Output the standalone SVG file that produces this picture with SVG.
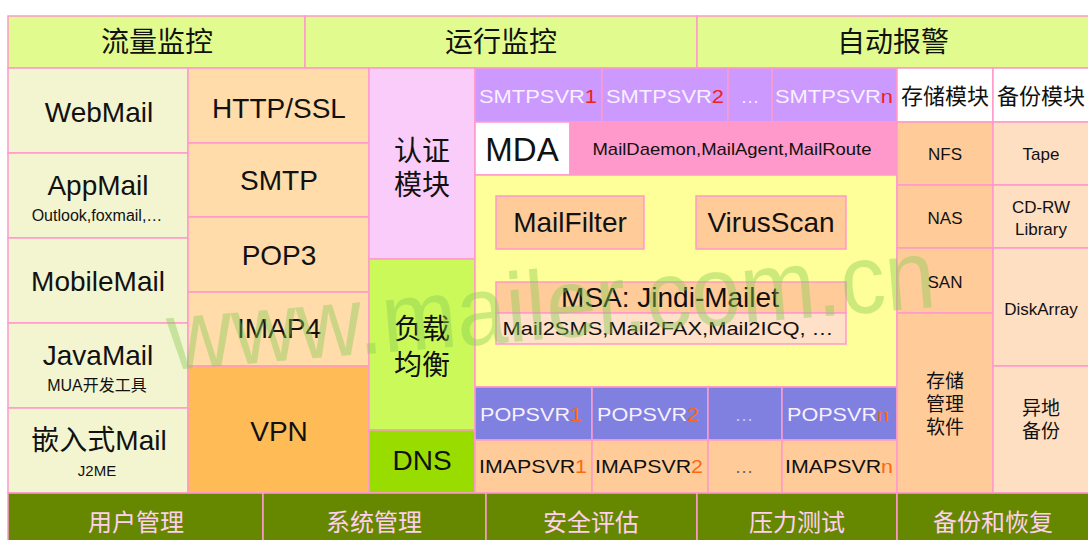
<svg xmlns="http://www.w3.org/2000/svg" width="1088" height="540" viewBox="0 0 1088 540">
<style>
rect{stroke:#ff99cc;stroke-width:1.5}
text{font-family:"Liberation Sans","Noto Sans CJK SC",sans-serif;text-anchor:middle;fill:#111}
.cn{font-family:"Noto Sans CJK SC","Liberation Sans",sans-serif}
.top{fill:#e2fb8e}
.client{fill:#f3f5d0}
.proto{fill:#ffdcaa}
.big{font-size:28px}
.small{font-size:16px}
.svr{font-size:19px;fill:#f8f0ff}
.red{fill:#ee2222}
.org{fill:#ff6611}
.bar{fill:#668800}
.bt{font-size:24px;fill:#ffd0f0}
.stor{fill:#ffcc99}
.bak{fill:#ffdfc2}
.st{font-size:17px}
</style>
<rect width="1088" height="540" fill="#ffffff" style="stroke:none"/>

<g id="top-monitor">
<rect class="top" x="8" y="16" width="297" height="52"/>
<text class="cn big" x="157" y="52">流量监控</text>
<rect class="top" x="305" y="16" width="392" height="52"/>
<text class="cn big" x="501" y="52">运行监控</text>
<rect class="top" x="697" y="16" width="395" height="52"/>
<text class="cn big" x="893" y="52">自动报警</text>
</g>

<g id="clients">
<rect class="client" x="8" y="68" width="180" height="85"/>
<text class="big" x="99" y="122">WebMail</text>
<rect class="client" x="8" y="153" width="180" height="85"/>
<text class="big" x="98" y="195">AppMail</text>
<text class="small" x="97" y="221">Outlook,foxmail,…</text>
<rect class="client" x="8" y="238" width="180" height="85"/>
<text class="big" x="98" y="291">MobileMail</text>
<rect class="client" x="8" y="323" width="180" height="85"/>
<text class="big" x="98" y="365">JavaMail</text>
<text class="small" x="97" y="391">MUA开发工具</text>
<rect class="client" x="8" y="408" width="180" height="85"/>
<text class="big" x="99" y="450">嵌入式Mail</text>
<text style="font-size:15px" x="97" y="476">J2ME</text>
</g>

<g id="protocols">
<rect class="proto" x="188" y="68" width="181" height="75"/>
<text class="big" x="279" y="118">HTTP/SSL</text>
<rect class="proto" x="188" y="143" width="181" height="74"/>
<text class="big" x="279" y="190">SMTP</text>
<rect class="proto" x="188" y="217" width="181" height="75"/>
<text class="big" x="279" y="265">POP3</text>
<rect class="proto" x="188" y="292" width="181" height="74"/>
<text class="big" x="279" y="338">IMAP4</text>
<rect x="188" y="366" width="181" height="127" fill="#ffbb55"/>
<text class="big" x="279" y="441">VPN</text>
</g>

<g id="auth">
<rect x="369" y="68" width="106" height="191" fill="#f9ccf9"/>
<text class="cn big" x="422" y="161">认证<tspan x="422" dy="34">模块</tspan></text>
</g>
<g id="load-balance">
<rect x="369" y="259" width="106" height="171" fill="#ccf95a"/>
<text class="cn big" x="422" y="339">负载<tspan x="422" dy="36">均衡</tspan></text>
</g>
<g id="dns">
<rect x="369" y="430" width="106" height="63" fill="#99dd00"/>
<text class="big" x="422" y="470">DNS</text>
</g>

<g id="smtpsvr">
<rect x="475" y="68" width="127" height="54" fill="#cc99ff"/>
<text class="svr" x="538" y="103" textLength="118" lengthAdjust="spacingAndGlyphs">SMTPSVR<tspan class="red">1</tspan></text>
<rect x="602" y="68" width="126" height="54" fill="#cc99ff"/>
<text class="svr" x="665" y="103" textLength="118" lengthAdjust="spacingAndGlyphs">SMTPSVR<tspan class="red">2</tspan></text>
<rect x="728" y="68" width="44" height="54" fill="#cc99ff"/>
<text class="svr" x="750" y="103">…</text>
<rect x="772" y="68" width="125" height="54" fill="#cc99ff"/>
<text class="svr" x="834" y="103" textLength="118" lengthAdjust="spacingAndGlyphs">SMTPSVR<tspan class="red">n</tspan></text>
</g>

<g id="mda">
<rect x="475" y="122" width="95" height="53" fill="#ffffff"/>
<text style="font-size:33px" x="522" y="161">MDA</text>
<rect x="570" y="122" width="327" height="53" fill="#ff99cc"/>
<text x="732" y="155" style="font-size:17px" textLength="279" lengthAdjust="spacingAndGlyphs">MailDaemon,MailAgent,MailRoute</text>
</g>

<g id="core">
<rect x="475" y="175" width="422" height="212" fill="#ffff99"/>
<g id="mailfilter">
<rect x="496" y="196" width="148" height="53" fill="#ffcc99"/>
<text class="big" x="570" y="232">MailFilter</text>
</g>
<g id="virusscan">
<rect x="696" y="196" width="150" height="53" fill="#ffcc99"/>
<text class="big" x="771" y="232">VirusScan</text>
</g>
<g id="msa">
<rect x="496" y="282" width="350" height="31" fill="#ffcc99"/>
<rect x="496" y="313" width="350" height="31" fill="#ffe0c8"/>
<text class="big" x="670" y="307">MSA: Jindi-Mailet</text>
<text style="font-size:19px" x="668" y="335" textLength="331" lengthAdjust="spacingAndGlyphs">Mail2SMS,Mail2FAX,Mail2ICQ, …</text>
</g>
</g>

<g id="popsvr">
<rect x="475" y="387" width="117" height="53" fill="#8080e0"/>
<text class="svr" x="531" y="421" textLength="102" lengthAdjust="spacingAndGlyphs">POPSVR<tspan class="org">1</tspan></text>
<rect x="592" y="387" width="116" height="53" fill="#8080e0"/>
<text class="svr" x="648" y="421" textLength="102" lengthAdjust="spacingAndGlyphs">POPSVR<tspan class="org">2</tspan></text>
<rect x="708" y="387" width="74" height="53" fill="#8080e0"/>
<text class="svr" x="744" y="421" style="fill:#c8c8f0">…</text>
<rect x="782" y="387" width="115" height="53" fill="#8080e0"/>
<text class="svr" x="838" y="421" textLength="102" lengthAdjust="spacingAndGlyphs">POPSVR<tspan class="org">n</tspan></text>
</g>

<g id="imapsvr">
<rect x="475" y="440" width="117" height="53" fill="#ffcc99"/>
<text style="font-size:19px" x="533" y="473" textLength="108" lengthAdjust="spacingAndGlyphs">IMAPSVR<tspan class="org">1</tspan></text>
<rect x="592" y="440" width="116" height="53" fill="#ffcc99"/>
<text style="font-size:19px" x="649" y="473" textLength="108" lengthAdjust="spacingAndGlyphs">IMAPSVR<tspan class="org">2</tspan></text>
<rect x="708" y="440" width="74" height="53" fill="#ffcc99"/>
<text style="font-size:19px;fill:#666" x="744" y="473">…</text>
<rect x="782" y="440" width="115" height="53" fill="#ffcc99"/>
<text style="font-size:19px" x="839" y="473" textLength="108" lengthAdjust="spacingAndGlyphs">IMAPSVR<tspan class="org">n</tspan></text>
</g>

<g id="storage">
<rect x="897" y="68" width="96" height="54" fill="#ffffff"/>
<text class="cn" style="font-size:22px" x="945" y="104">存储模块</text>
<rect class="stor" x="897" y="122" width="96" height="63"/>
<text class="st" x="945" y="160">NFS</text>
<rect class="stor" x="897" y="185" width="96" height="63"/>
<text class="st" x="945" y="224">NAS</text>
<rect class="stor" x="897" y="248" width="96" height="65"/>
<text class="st" x="945" y="288">SAN</text>
<rect class="stor" x="897" y="313" width="96" height="180"/>
<text class="cn" style="font-size:19px" x="945" y="388">存储<tspan x="945" dy="23">管理</tspan><tspan x="945" dy="23">软件</tspan></text>
</g>

<g id="backup">
<rect x="993" y="68" width="99" height="54" fill="#ffffff"/>
<text class="cn" style="font-size:22px" x="1041" y="104">备份模块</text>
<rect class="bak" x="993" y="122" width="99" height="63"/>
<text class="st" x="1041" y="160">Tape</text>
<rect class="bak" x="993" y="185" width="99" height="63"/>
<text class="st" x="1041" y="213">CD-RW<tspan x="1041" dy="22">Library</tspan></text>
<rect class="bak" x="993" y="248" width="99" height="118"/>
<text class="st" x="1041" y="315">DiskArray</text>
<rect class="bak" x="993" y="366" width="99" height="127"/>
<text class="cn" style="font-size:19px" x="1041" y="415">异地<tspan x="1041" dy="23">备份</tspan></text>
</g>

<g id="bottom-mgmt">
<rect class="bar" x="8" y="493" width="255" height="52"/>
<text class="cn bt" x="136" y="531">用户管理</text>
<rect class="bar" x="263" y="493" width="223" height="52"/>
<text class="cn bt" x="374" y="531">系统管理</text>
<rect class="bar" x="486" y="493" width="211" height="52"/>
<text class="cn bt" x="591" y="531">安全评估</text>
<rect class="bar" x="697" y="493" width="200" height="52"/>
<text class="cn bt" x="797" y="531">压力测试</text>
<rect class="bar" x="897" y="493" width="195" height="52"/>
<text class="cn bt" x="993" y="531">备份和恢复</text>
</g>

<g id="watermark" opacity="0.42">
<text transform="rotate(-4.7 170 370)" x="170" y="370" style="text-anchor:start;font-size:98px;fill:#88cc55" textLength="770" lengthAdjust="spacingAndGlyphs">www.mailer.com.cn</text>
</g>
</svg>
